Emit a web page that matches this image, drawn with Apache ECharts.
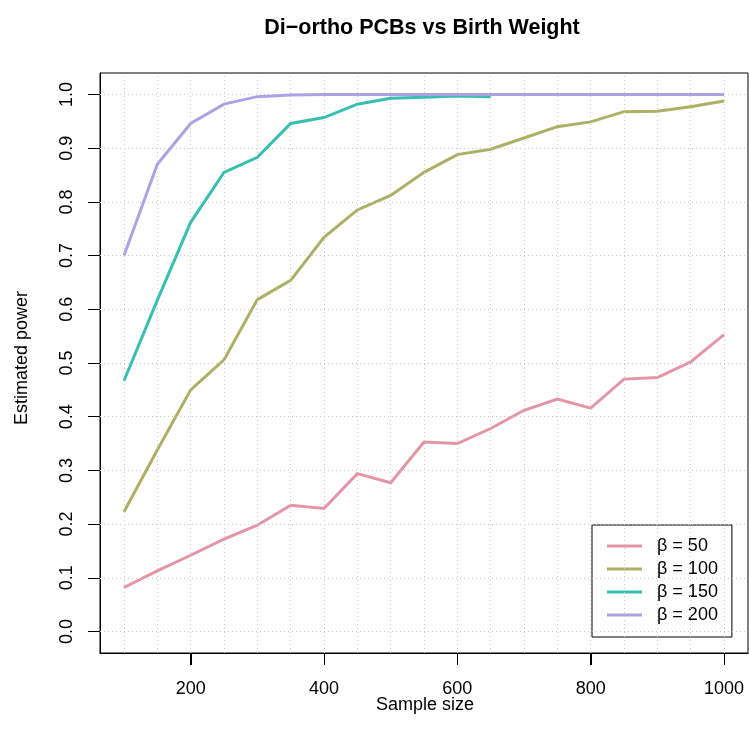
<!DOCTYPE html>
<html>
<head>
<meta charset="utf-8">
<title>Di-ortho PCBs vs Birth Weight</title>
<script src="https://cdn.jsdelivr.net/npm/echarts@6/dist/echarts.min.js"></script>
<style>
  html, body { margin: 0; padding: 0; background: #ffffff; }
  #chart { width: 749px; height: 743px; }
</style>
</head>
<body>
<div id="chart"></div>
<script>
// Sample sizes simulated (x values)
const sampleSizes = [100, 150, 200, 250, 300, 350, 400, 450, 500, 550,
                     600, 650, 700, 750, 800, 850, 900, 950, 1000];

// Estimated power for each effect size beta
const power50  = [0.082, 0.113, 0.142, 0.172, 0.198, 0.235, 0.229, 0.294, 0.277, 0.353,
                  0.350, 0.378, 0.412, 0.433, 0.416, 0.470, 0.473, 0.502, 0.553];
const power100 = [0.223, 0.338, 0.450, 0.506, 0.618, 0.654, 0.734, 0.785, 0.812, 0.855,
                  0.888, 0.898, 0.919, 0.940, 0.949, 0.968, 0.969, 0.977, 0.988];
// beta = 150 was only run up to n = 650
const power150 = [0.467, 0.617, 0.762, 0.855, 0.883, 0.946, 0.957, 0.982, 0.993, 0.995,
                  0.997, 0.996];
const power200 = [0.700, 0.870, 0.946, 0.982, 0.996, 0.999, 1.000, 1.000, 1.000, 1.000,
                  1.000, 1.000, 1.000, 1.000, 1.000, 1.000, 1.000, 1.000, 1.000];

const seriesNames  = ['β = 50', 'β = 100', 'β = 150', 'β = 200'];
const seriesColors = ['#E495A5', '#ABB065', '#39BEB1', '#ACA4E2'];

// Tick positions and reference-grid positions
const xTicks = [200, 400, 600, 800, 1000];
const yTicks = [0, 0.1, 0.2, 0.3, 0.4, 0.5, 0.6, 0.7, 0.8, 0.9, 1.0];
const xGridValues = sampleSizes.slice();
const yGridValues = yTicks.slice();

const pair = (vals) => vals.map((v, i) => [sampleSizes[i], v]);

const FONT = '"Liberation Sans", Arial, sans-serif';
const TICK_LEN = 12;

const chart = echarts.init(document.getElementById('chart'));

const gridLines = [];
xGridValues.forEach(v => gridLines.push({ xAxis: v }));
yGridValues.forEach(v => gridLines.push({ yAxis: v }));

const lineSeries = [power50, power100, power150, power200].map((vals, i) => ({
  name: seriesNames[i],
  type: 'line',
  data: pair(vals),
  showSymbol: false,
  symbol: 'none',
  lineStyle: { color: seriesColors[i], width: 3, join: 'miter' },
  itemStyle: { color: seriesColors[i] },
  z: 3 + i
}));

const axisBlack = { color: '#000000', width: 1 };

const textGraphics = [
  {
    type: 'text', x: 422, y: 28,
    style: {
      text: 'Di−ortho PCBs vs Birth Weight',
      font: 'bold 21.5px ' + FONT,
      fill: '#000000', align: 'center', verticalAlign: 'middle'
    }
  },
  {
    type: 'text', x: 425, y: 705,
    style: {
      text: 'Sample size',
      font: '18px ' + FONT,
      fill: '#000000', align: 'center', verticalAlign: 'middle'
    }
  },
  {
    type: 'text', x: 22, y: 358, rotation: Math.PI / 2,
    style: {
      text: 'Estimated power',
      font: '18px ' + FONT,
      fill: '#000000', align: 'center', verticalAlign: 'middle'
    }
  }
];

chart.setOption({
  animation: false,
  backgroundColor: '#ffffff',
  textStyle: { fontFamily: FONT },
  grid: {
    left: 100, right: 1, top: 73, bottom: 90,
    show: true,
    borderColor: '#000000',
    borderWidth: 1,
    backgroundColor: 'transparent',
    containLabel: false,
    outerBoundsMode: 'none'
  },
  xAxis: {
    type: 'value',
    position: 'bottom',
    min: 64,
    max: 1036,
    axisLine: { show: true, onZero: false, lineStyle: axisBlack },
    splitLine: { show: false },
    axisTick: {
      show: true, inside: false, length: TICK_LEN,
      customValues: xTicks,
      lineStyle: axisBlack
    },
    axisLabel: {
      customValues: xTicks,
      color: '#000000',
      fontSize: 18,
      fontFamily: FONT,
      margin: 27,
      formatter: v => String(v)
    }
  },
  yAxis: {
    type: 'value',
    position: 'left',
    min: -0.04,
    max: 1.04,
    axisLine: { show: true, onZero: false, lineStyle: axisBlack },
    splitLine: { show: false },
    axisTick: {
      show: true, inside: false, length: TICK_LEN,
      customValues: yTicks,
      lineStyle: axisBlack
    },
    axisLabel: {
      customValues: yTicks,
      rotate: 90,
      color: '#000000',
      fontSize: 18,
      fontFamily: FONT,
      margin: 24,
      formatter: v => v.toFixed(1)
    }
  },
  legend: {
    data: seriesNames,
    orient: 'vertical',
    left: 592,
    top: 525,
    icon: 'rect',
    itemWidth: 35,
    itemHeight: 3,
    itemGap: 3,
    padding: [11, 14, 12, 15],
    borderColor: '#000000',
    borderWidth: 1,
    borderRadius: 0,
    backgroundColor: '#ffffff',
    textStyle: { color: '#000000', fontSize: 18, fontFamily: FONT, lineHeight: 20, padding: [0, 0, 0, 10] },
    selectedMode: false
  },
  graphic: textGraphics,
  series: [
    {
      name: 'grid',
      type: 'line',
      data: [],
      silent: true,
      z: 1,
      markLine: {
        silent: true,
        symbol: 'none',
        label: { show: false },
        animation: false,
        lineStyle: { color: '#c8c8c8', width: 1, type: [1, 3] },
        emphasis: { disabled: true },
        data: gridLines
      }
    }
  ].concat(lineSeries)
});

// Bottom-axis tick marks placed through the x scale
const bottomY = chart.convertToPixel({ yAxisIndex: 0 }, -0.04);
const tickMarks = xTicks.map(v => {
  const px = Math.round(chart.convertToPixel({ xAxisIndex: 0 }, v)) + 0.5;
  return {
    type: 'line',
    shape: { x1: px, y1: bottomY, x2: px, y2: bottomY + TICK_LEN },
    style: { stroke: '#000000', lineWidth: 1 },
    silent: true
  };
});
chart.setOption({ graphic: textGraphics.concat(tickMarks) });
</script>
</body>
</html>
